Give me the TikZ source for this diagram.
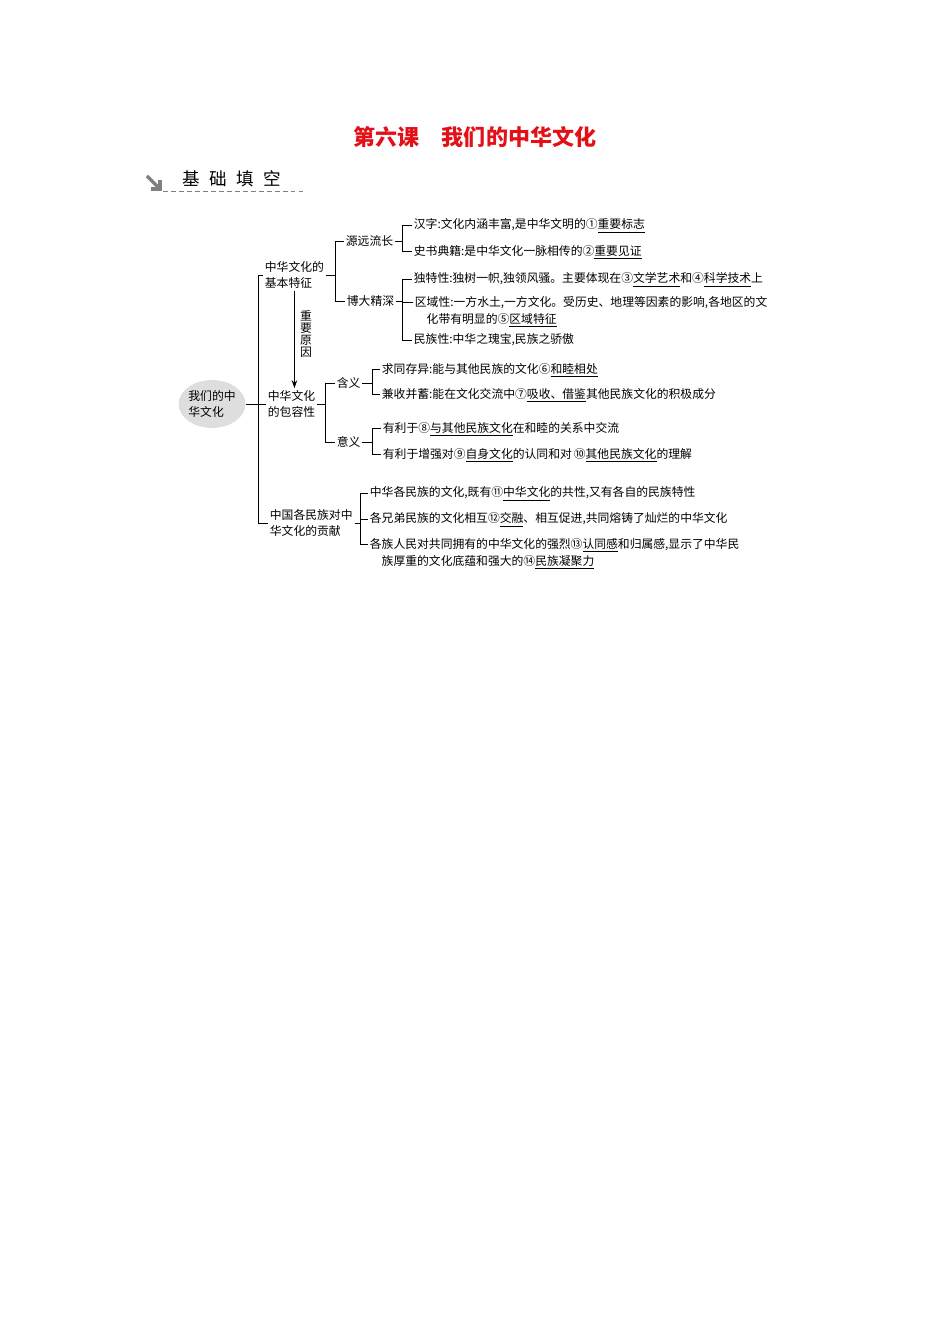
\documentclass[tikz,border=0pt]{standalone}
\usepackage{fontspec}
\setmainfont{Noto Sans CJK SC}
\usepackage{tikz}
\usetikzlibrary{shapes.geometric,arrows.meta}
\definecolor{titlered}{RGB}{228,16,24}
\newcommand{\mapfont}{\fontsize{7.4pt}{10.6pt}\selectfont}
\newcommand{\ans}[1]{\smash{\underline{#1}}\vphantom{#1}}

\begin{document}
\begin{tikzpicture}[x=0.6265pt, y=-0.6265pt,
  item/.style={anchor=west, inner sep=1pt, font=\mapfont},
  topic/.style={anchor=west, inner sep=1pt, align=left, font=\mapfont},
  rootnode/.style={ellipse, fill=black!13, inner sep=0pt, minimum width=39pt,
    minimum height=30pt, align=left, font=\mapfont},
  bline/.style={line width=0.6pt}]
\useasboundingbox (0,0) rectangle (950,1344);

%title
  \node[font=\fontsize{13.8pt}{16pt}\selectfont\bfseries, text=titlered] (title) at (475,137) {第六课\hspace{1em}我们的中华文化};
  \node[anchor=west, inner sep=1pt, font=\fontsize{11pt}{13pt}\selectfont] (jc) at (181,179) {基\hspace{5.9pt}础\hspace{5.9pt}填\hspace{5.9pt}空};
  \draw[gray, line width=2.2pt] (147,176) -- (158,187);
  \draw[gray, line width=2.2pt] (151,189) -- (160,189) -- (160,180);
  \draw[gray, line width=0.5pt, dash pattern=on 3pt off 2pt] (163,191) -- (305,191);

%main branches
  \node[rootnode] (root) at (212,404) {我们的中\\华文化};
  \node[topic] (jbtz) at (263,275) {中华文化的\\基本特征};
  \node[topic] (bry) at (266,404) {中华文化\\的包容性};
  \node[topic] (gx) at (268,523) {中国各民族对中\\华文化的贡献};

%basic features
  \node[item] (ylzc) at (344,241) {源远流长};
  \node[item] (bdjs) at (345,301) {博大精深};
  \node[item] (hz) at (412,225) {汉字:文化内涵丰富,是中华文明的①\ans{重要标志}};
  \node[item] (ssdj) at (412,251) {史书典籍:是中华文化一脉相传的②\ans{重要见证}};
  \node[item] (dtx) at (412,279) {独特性:独树一帜,独领风骚。主要体现在③\ans{文学艺术}和④\ans{科学技术}上};
  \node[topic] (qyx) at (413,310.5) {区域性:一方水土,一方文化。受历史、地理等因素的影响,各地区的文\\\hspace{1em}化带有明显的⑤\ans{区域特征}};
  \node[item] (mzx) at (412,340) {民族性:中华之瑰宝,民族之骄傲};

%important reason
  \node[font=\fontsize{7.4pt}{7.6pt}\selectfont, align=center, inner sep=0pt] (why) at (306,334) {重\\要\\原\\因};
  \draw[bline, -{Stealth[length=5pt,width=3.5pt]}] (jbtz.south) -- (jbtz.south |- bry.north);

%inclusiveness
  \node[item] (hy) at (335,383) {含义};
  \node[item] (yy) at (335,442) {意义};
  \node[item] (qtcy) at (380,369) {求同存异:能与其他民族的文化⑥\ans{和睦相处}};
  \node[item] (jsbx) at (380,394) {兼收并蓄:能在文化交流中⑦\ans{吸收、借鉴}其他民族文化的积极成分};
  \node[item] (ylya) at (381,428) {有利于⑧\ans{与其他民族文化}在和睦的关系中交流};
  \node[item] (ylyb) at (381,454) {有利于增强对⑨\ans{自身文化}的认同和对\,⑩\ans{其他民族文化}的理解};

%contribution
  \node[item] (gxa) at (368,493) {中华各民族的文化,既有⑪\ans{中华文化}的共性,又有各自的民族特性};
  \node[item] (gxb) at (368,519) {各兄弟民族的文化相互⑫\ans{交融}、相互促进,共同熔铸了灿烂的中华文化};
  \node[topic] (gxc) at (368,552.5) {各族人民对共同拥有的中华文化的强烈⑬\ans{认同感}和归属感,显示了中华民\\\hspace{1em}族厚重的文化底蕴和强大的⑭\ans{民族凝聚力}};

%brackets
  \coordinate (tr) at (258,0);
  \coordinate (b0) at (335,0);
  \coordinate (b1) at (402,0);
  \coordinate (b3) at (325,0);
  \coordinate (b4) at (372,0);
  \coordinate (b6) at (360,0);
  \coordinate (qyt) at ([yshift=5.3pt]qyx.west);
  \coordinate (gxt) at ([yshift=5.3pt]gxc.west);

  \draw[bline] (jbtz.west) -- (jbtz.west -| tr) -- (gx.west -| tr) -- (gx.west);
  \draw[bline] (root.east) -- (bry.west);

  \draw[bline] (ylzc.west) -- (ylzc.west -| b0) -- (bdjs.west -| b0) -- (bdjs.west);
  \draw[bline] (jbtz.east) -- (jbtz.east -| b0);

  \draw[bline] (hz.west) -- (hz.west -| b1) -- (ssdj.west -| b1) -- (ssdj.west);
  \draw[bline] (ylzc.east) -- (ylzc.east -| b1);

  \draw[bline] (dtx.west) -- (dtx.west -| b1) -- (mzx.west -| b1) -- (mzx.west);
  \draw[bline] (qyt) -- (qyt -| b1);
  \draw[bline] (bdjs.east) -- (bdjs.east -| b1);

  \draw[bline] (hy.west) -- (hy.west -| b3) -- (yy.west -| b3) -- (yy.west);
  \draw[bline] (bry.east) -- (bry.east -| b3);

  \draw[bline] (qtcy.west) -- (qtcy.west -| b4) -- (jsbx.west -| b4) -- (jsbx.west);
  \draw[bline] (hy.east) -- (hy.east -| b4);

  \draw[bline] (ylya.west) -- (ylya.west -| b4) -- (ylyb.west -| b4) -- (ylyb.west);
  \draw[bline] (yy.east) -- (yy.east -| b4);

  \draw[bline] (gxa.west) -- (gxa.west -| b6) -- (gxt -| b6) -- (gxt);
  \draw[bline] (gxb.west) -- (gxb.west -| b6);
  \draw[bline] (gx.east) -- (gx.east -| b6);
\end{tikzpicture}
\end{document}
